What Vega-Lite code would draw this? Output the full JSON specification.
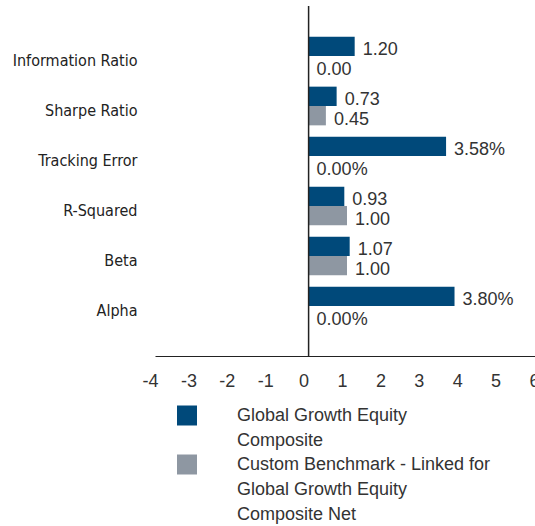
{
  "$schema": "https://vega.github.io/schema/vega-lite/v6.json",
  "autosize": "none",
  "padding": {"left": 155, "top": 6, "right": 0, "bottom": 170},
  "width": 384,
  "height": 350,
  "config": {"view": {"stroke": null}, "font": "Liberation Sans"},
  "data": {"values": [
    {"metric": "Information Ratio", "series": "Global Growth Equity Composite", "value": 1.20, "label": "1.20"},
    {"metric": "Information Ratio", "series": "Custom Benchmark - Linked for Global Growth Equity Composite Net", "value": 0.00, "label": "0.00"},
    {"metric": "Sharpe Ratio", "series": "Global Growth Equity Composite", "value": 0.73, "label": "0.73"},
    {"metric": "Sharpe Ratio", "series": "Custom Benchmark - Linked for Global Growth Equity Composite Net", "value": 0.45, "label": "0.45"},
    {"metric": "Tracking Error", "series": "Global Growth Equity Composite", "value": 3.58, "label": "3.58%"},
    {"metric": "Tracking Error", "series": "Custom Benchmark - Linked for Global Growth Equity Composite Net", "value": 0.00, "label": "0.00%"},
    {"metric": "R-Squared", "series": "Global Growth Equity Composite", "value": 0.93, "label": "0.93"},
    {"metric": "R-Squared", "series": "Custom Benchmark - Linked for Global Growth Equity Composite Net", "value": 1.00, "label": "1.00"},
    {"metric": "Beta", "series": "Global Growth Equity Composite", "value": 1.07, "label": "1.07"},
    {"metric": "Beta", "series": "Custom Benchmark - Linked for Global Growth Equity Composite Net", "value": 1.00, "label": "1.00"},
    {"metric": "Alpha", "series": "Global Growth Equity Composite", "value": 3.80, "label": "3.80%"},
    {"metric": "Alpha", "series": "Custom Benchmark - Linked for Global Growth Equity Composite Net", "value": 0.00, "label": "0.00%"}
  ]},
  "encoding": {
    "y": {"field": "metric", "type": "nominal",
      "sort": ["Information Ratio", "Sharpe Ratio", "Tracking Error", "R-Squared", "Beta", "Alpha"],
      "scale": {"paddingInner": 0.226, "paddingOuter": 0.613},
      "axis": {"title": null, "domain": false, "ticks": false, "grid": false, "labelPadding": 18, "labelFont": "DejaVu Sans Condensed", "labelFontSize": 16, "labelColor": "#222", "labelOffset": 5, "labelLimit": 200}},
    "yOffset": {"field": "series", "type": "nominal",
      "sort": ["Global Growth Equity Composite", "Custom Benchmark - Linked for Global Growth Equity Composite Net"],
      "scale": {"paddingInner": 0, "paddingOuter": 0}},
    "x": {"field": "value", "type": "quantitative",
      "scale": {"domain": [-4, 6], "nice": false, "zero": false},
      "axis": {"title": null, "grid": false, "ticks": false, "domainColor": "#222", "labelFontSize": 18, "labelColor": "#333", "labelPadding": 16, "labelOffset": -5, "values": [-4, -3, -2, -1, 0, 1, 2, 3, 4, 5, 6], "labelExpr": "datum.value + ''", "labelFlush": false, "labelOverlap": false, "labelBound": false}}
  },
  "layer": [
    {"mark": {"type": "bar"},
     "encoding": {
       "color": {"field": "series", "type": "nominal",
         "scale": {"domain": ["Global Growth Equity Composite", "Custom Benchmark - Linked for Global Growth Equity Composite Net"], "range": ["#00497a", "#8e97a2"]},
         "legend": {"title": null, "orient": "none", "legendX": 22, "legendY": 399.5, "direction": "vertical", "symbolType": "square", "symbolSize": 400, "symbolStrokeWidth": 0, "symbolOpacity": 1, "labelFontSize": 18, "labelColor": "#333", "labelOffset": 40, "labelLimit": 400, "rowPadding": 5, "padding": 0,
           "labelExpr": "datum.label == 'Global Growth Equity Composite' ? ['Global Growth Equity', 'Composite'] : ['Custom Benchmark - Linked for', 'Global Growth Equity', 'Composite Net']",
           "encode": {"labels": {"update": {"lineHeight": {"value": 25}}}}}}
     }},
    {"mark": {"type": "text", "align": "left", "baseline": "middle", "dx": 8, "dy": 4, "fontSize": 18, "color": "#333"},
     "encoding": {"text": {"field": "label"}}},
    {"data": {"values": [{"z": 0}]},
     "mark": {"type": "rule", "color": "#222", "strokeWidth": 1.5},
     "encoding": {"x": {"field": "z", "type": "quantitative"}, "y": null, "yOffset": null}}
  ]
}
